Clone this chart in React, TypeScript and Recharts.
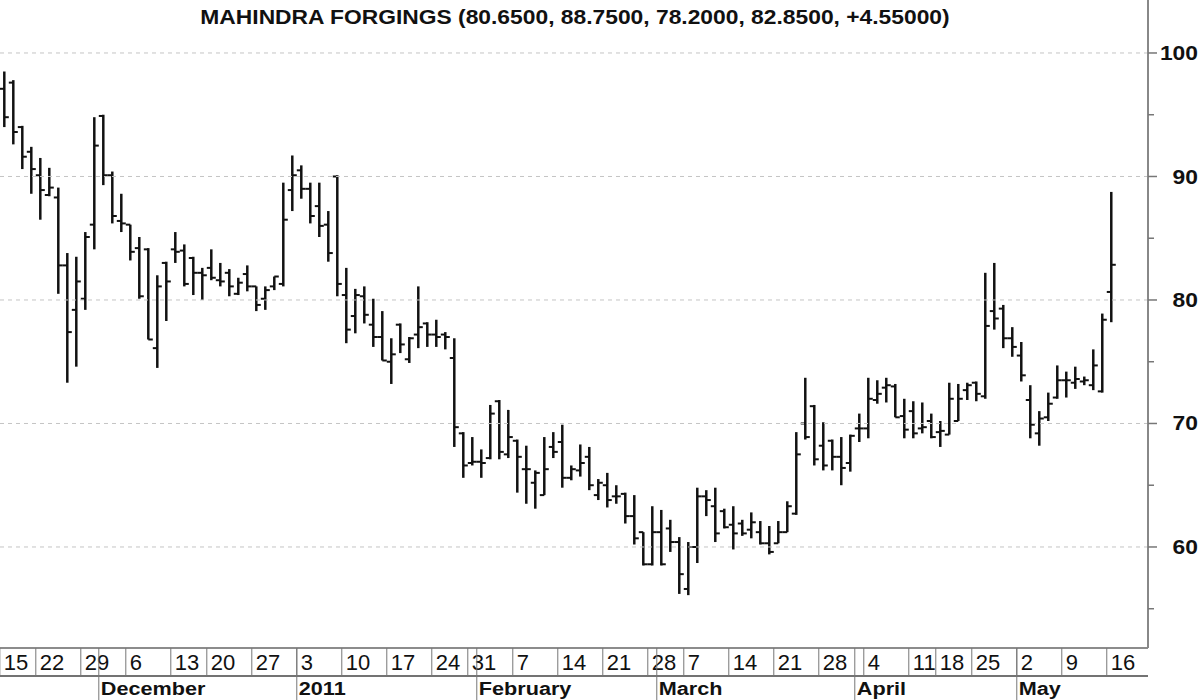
import React from 'react';
import { ComposedChart, Bar, XAxis, YAxis, ReferenceLine } from 'recharts';

// One bar per trading day, 15 Nov 2010 .. 16 May 2011
const opens = [
  97.1, 97.6, 94.0, 92.0, 90.1, 88.5, 88.3, 82.8, 79.2, 80.1,
  86.1, 94.9, 90.1, 86.4, 86.1, 84.2, 84.1, 76.1, 83.0, 84.1,
  84.0, 83.4, 82.2, 82.6, 81.6, 82.2, 80.5, 82.1, 81.1, 80.1,
  81.1, 81.3, 88.9, 90.5, 89.0, 87.6, 86.1, 90.0, 80.4, 78.7,
  80.3, 78.0, 77.0, 75.0, 78.0, 75.2, 77.2, 78.1, 77.2, 77.2,
  75.3, 69.2, 66.8, 66.9, 67.2, 71.8, 67.5, 68.6, 66.3, 65.2,
  64.2, 68.1, 68.5, 65.6, 66.2, 67.3, 64.2, 65.0, 64.1, 64.3,
  62.5, 61.2, 58.6, 61.2, 61.5, 60.4, 56.6, 60.0, 64.1, 63.3,
  62.9, 61.8, 61.9, 61.4, 61.2, 60.3, 60.3, 61.2, 62.7, 70.0,
  71.4, 68.2, 68.6, 67.3, 66.8, 69.6, 69.6, 71.9, 72.9, 73.0,
  70.6, 71.0, 69.6, 70.2, 69.3, 69.1, 70.2, 72.7, 73.3, 72.2,
  79.1, 79.3, 76.9, 75.5, 71.9, 69.2, 70.5, 72.1, 73.5, 73.3,
  73.4, 73.1, 72.6, 80.65,
];
const highs = [
  98.5, 97.8, 94.1, 92.4, 91.5, 90.7, 89.1, 83.8, 83.5, 85.5,
  94.8, 95.0, 90.4, 88.6, 86.1, 85.1, 84.2, 82.0, 83.1, 85.5,
  84.5, 83.5, 82.6, 84.1, 83.0, 82.5, 81.8, 82.8, 81.1, 81.1,
  81.9, 89.5, 91.7, 90.9, 89.5, 89.5, 87.2, 90.1, 82.6, 80.9,
  81.1, 80.1, 79.1, 76.9, 78.1, 77.0, 81.1, 78.2, 78.4, 77.4,
  76.9, 69.3, 68.9, 67.9, 71.5, 71.9, 71.1, 68.7, 68.2, 66.2,
  68.9, 69.3, 69.9, 66.6, 68.3, 68.1, 65.5, 66.0, 65.0, 64.4,
  64.2, 61.2, 63.3, 63.0, 62.2, 60.8, 60.4, 64.8, 64.6, 64.8,
  63.1, 63.3, 62.2, 62.8, 62.1, 61.7, 62.1, 63.7, 69.3, 73.7,
  71.5, 70.1, 68.7, 68.9, 69.1, 70.8, 73.7, 73.5, 73.7, 73.2,
  72.0, 71.8, 71.7, 70.8, 70.2, 73.3, 73.2, 73.3, 73.4, 82.2,
  83.0, 79.6, 77.8, 76.6, 73.1, 71.0, 72.5, 74.7, 74.2, 74.6,
  73.8, 76.0, 78.9, 88.75,
];
const lows = [
  94.0, 92.6, 90.6, 88.6, 86.5, 88.4, 80.5, 73.3, 74.6, 79.2,
  84.1, 89.3, 86.2, 85.5, 83.2, 80.1, 76.8, 74.5, 78.3, 83.0,
  81.1, 80.4, 80.0, 81.6, 81.1, 80.3, 80.4, 80.7, 79.1, 79.2,
  80.8, 81.1, 87.2, 88.2, 86.2, 85.1, 83.1, 80.3, 76.5, 77.3,
  78.1, 76.2, 75.1, 73.2, 75.7, 74.9, 76.1, 76.2, 76.2, 76.0,
  68.1, 65.6, 66.6, 65.6, 67.1, 67.1, 67.2, 64.4, 63.5, 63.1,
  64.2, 67.2, 64.8, 65.4, 65.7, 64.6, 63.8, 63.2, 63.5, 61.9,
  60.2, 58.5, 58.5, 58.5, 59.6, 56.2, 56.1, 58.7, 62.5, 60.4,
  61.5, 59.8, 60.9, 60.7, 60.2, 59.4, 60.3, 61.2, 62.6, 68.7,
  66.6, 66.2, 66.2, 65.0, 66.1, 68.5, 68.8, 71.6, 71.7, 70.5,
  68.8, 68.8, 69.2, 68.8, 68.1, 69.1, 70.2, 71.9, 71.8, 72.0,
  77.6, 76.1, 75.4, 73.4, 68.8, 68.2, 70.2, 72.0, 72.1, 72.8,
  73.1, 72.7, 72.5, 78.2,
];
const closes = [
  94.8, 93.6, 91.6, 90.6, 88.9, 89.1, 82.8, 77.4, 81.5, 85.1,
  92.5, 90.1, 86.8, 86.2, 83.9, 80.3, 76.8, 81.1, 81.5, 83.9,
  81.3, 82.2, 82.0, 81.8, 81.5, 81.1, 81.4, 81.1, 79.6, 80.8,
  81.9, 86.5, 90.1, 89.0, 86.8, 86.0, 83.8, 81.3, 77.6, 80.4,
  78.8, 77.0, 75.1, 75.6, 76.4, 76.9, 77.8, 77.2, 77.0, 77.0,
  69.7, 66.6, 66.9, 66.8, 70.8, 67.7, 68.9, 67.3, 66.3, 66.0,
  66.3, 67.7, 65.6, 66.3, 66.8, 65.0, 65.2, 63.8, 64.1, 62.5,
  60.7, 58.6, 61.2, 58.6, 60.4, 57.8, 60.0, 64.1, 63.8, 61.1,
  61.6, 61.1, 61.1, 62.0, 60.3, 59.6, 61.2, 63.3, 67.5, 68.9,
  67.1, 66.6, 67.3, 66.4, 69.0, 69.6, 72.0, 72.4, 73.1, 70.5,
  69.5, 69.2, 69.7, 68.9, 69.4, 72.0, 72.0, 73.1, 72.4, 77.9,
  78.5, 76.9, 76.2, 73.9, 69.9, 70.4, 71.6, 73.5, 73.5, 73.6,
  73.5, 74.7, 78.4, 82.85,
];

// Axis labels (positions are trading-day indices)
const weekStarts = [0, 4, 9, 14, 19, 23, 28, 33, 38, 43, 48, 52, 57, 62, 67, 72, 76, 81, 86, 91, 96, 101, 104, 108, 113, 118, 123];
const weekLabels = ['15', '22', '29', '6', '13', '20', '27', '3', '10', '17', '24', '31', '7', '14', '21', '28', '7', '14', '21', '28', '4', '11', '18', '25', '2', '9', '16'];
const monthStarts = [11, 33, 53, 73, 95, 113];
const monthLabels = ['December', '2011', 'February', 'March', 'April', 'May'];
const yTicks = [55, 60, 65, 70, 75, 80, 85, 90, 95, 100];
const gridValues = [60, 70, 80, 90, 100];
const title = 'MAHINDRA FORGINGS (80.6500, 88.7500, 78.2000, 82.8500, +4.55000)';

const data = opens.map((o, i) => ({ i, o, h: highs[i], l: lows[i], c: closes[i] }));

const X_DOMAIN: [number, number] = [-0.478, 127.08];
const Y_DOMAIN: [number, number] = [51.82, 104.29];
const STRETCH = 1.17;
const SANS = "'Liberation Sans', Arial, sans-serif";
const NARROW = "'Liberation Sans Narrow', 'Arial Narrow', 'Liberation Sans', sans-serif";

const OhlcShape = (props: any) => {
  const { x, y, width, height, payload } = props;
  if (payload == null || x == null) return null;
  const cx = x + width / 2;
  const range = payload.h - payload.l;
  const k = range > 0 ? height / range : 0;
  const yO = y + (payload.h - payload.o) * k;
  const yC = y + (payload.h - payload.c) * k;
  return (
    <g stroke="#111">
      <line x1={cx} x2={cx} y1={y} y2={y + height} strokeWidth={2.5} />
      <line x1={cx - 4.5} x2={cx} y1={yO} y2={yO} strokeWidth={2} />
      <line x1={cx} x2={cx + 4.5} y1={yC} y2={yC} strokeWidth={2} />
    </g>
  );
};

const DayTick = (props: any) => {
  const { x, y, payload } = props;
  const k = weekStarts.indexOf(payload.value);
  if (k < 0) return null;
  const sx = x - 4.5;
  return (
    <g>
      <line x1={sx} x2={sx} y1={y} y2={y + 28} stroke="#777" strokeWidth={1} />
      <text x={sx + 4} y={y + 22} fontSize={22} fontFamily={NARROW} fill="#111">
        {weekLabels[k]}
      </text>
    </g>
  );
};

const MonthTick = (props: any) => {
  const { x, y, payload } = props;
  const k = monthStarts.indexOf(payload.value);
  if (k < 0) return null;
  const sx = x - 4.5;
  return (
    <g>
      <line x1={sx} x2={sx} y1={y - 28} y2={y + 26} stroke="#777" strokeWidth={1} />
      <text
        transform={`translate(${sx + 2} ${y + 19}) scale(${STRETCH} 1)`}
        fontSize={18.5}
        fontWeight="bold"
        fontFamily={SANS}
        fill="#111"
      >
        {monthLabels[k]}
      </text>
    </g>
  );
};

const PriceTick = (props: any) => {
  const { x, y, payload } = props;
  const v = payload.value;
  const major = v % 10 === 0;
  return (
    <g>
      <line x1={x} x2={x + (major ? 9 : 6)} y1={y} y2={y} stroke="#777" strokeWidth={1.5} />
      {major && (
        <text
          transform={`translate(1198 ${y}) scale(${STRETCH} 1)`}
          textAnchor="end"
          dy="0.36em"
          fontSize={19.5}
          fontWeight="bold"
          fontFamily={SANS}
          fill="#111"
        >
          {v}
        </text>
      )}
    </g>
  );
};

export default function App() {
  return (
    <div style={{ position: 'absolute', left: 0, top: 0, width: 1200, height: 700, background: '#fff', overflow: 'hidden' }}>
      <ComposedChart width={1200} height={700} data={data} margin={{ top: 0, right: 0, bottom: 0, left: 0 }}>
        <XAxis
          xAxisId="d"
          dataKey="i"
          type="number"
          domain={X_DOMAIN}
          allowDataOverflow
          ticks={weekStarts}
          interval={0}
          height={28}
          tickSize={0}
          tickMargin={0}
          tickLine={false}
          axisLine={{ stroke: '#666', strokeWidth: 1.5 }}
          tick={(p: any) => <DayTick {...p} />}
        />
        <XAxis
          xAxisId="m"
          dataKey="i"
          type="number"
          domain={X_DOMAIN}
          allowDataOverflow
          ticks={monthStarts}
          interval={0}
          height={24}
          tickSize={0}
          tickMargin={0}
          tickLine={false}
          axisLine={{ stroke: '#444', strokeWidth: 1.5 }}
          tick={(p: any) => <MonthTick {...p} />}
        />
        <YAxis
          orientation="right"
          type="number"
          domain={Y_DOMAIN}
          allowDataOverflow
          ticks={yTicks}
          interval={0}
          width={52}
          tickSize={0}
          tickMargin={0}
          tickLine={false}
          axisLine={{ stroke: '#888', strokeWidth: 2 }}
          tick={(p: any) => <PriceTick {...p} />}
        />
        {gridValues.map((v) => (
          <ReferenceLine key={v} xAxisId="d" y={v} stroke="#c4c4c4" strokeDasharray="4 4" strokeWidth={1} />
        ))}
        <Bar
          xAxisId="d"
          dataKey={(d: any) => [d.l, d.h]}
          barSize={5}
          isAnimationActive={false}
          shape={(p: any) => <OhlcShape {...p} />}
        />
      </ComposedChart>
      <div
        style={{
          position: 'absolute',
          left: 0,
          top: 7,
          width: 1150,
          textAlign: 'center',
          fontFamily: SANS,
          fontWeight: 'bold',
          fontSize: 19.5,
          lineHeight: '20px',
          color: '#111',
          transform: `scaleX(${STRETCH})`,
          transformOrigin: '575px 0',
          whiteSpace: 'nowrap',
        }}
      >
        {title}
      </div>
    </div>
  );
}
